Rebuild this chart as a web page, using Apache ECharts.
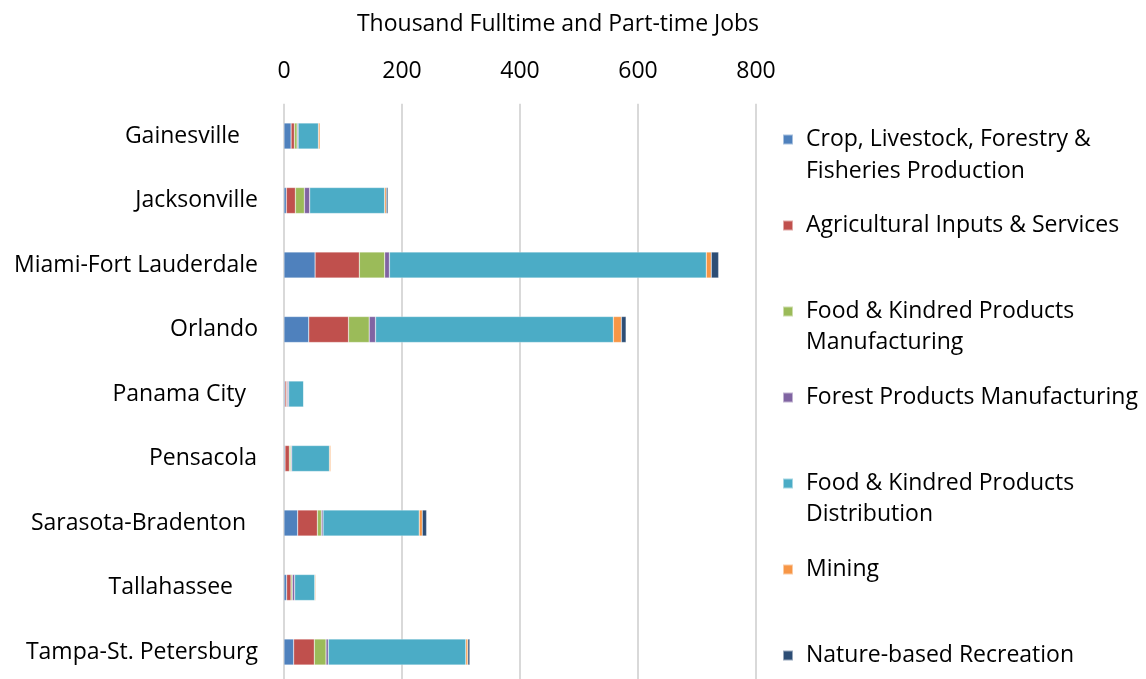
<!DOCTYPE html>
<html><head><meta charset="utf-8">
<script src="https://cdn.jsdelivr.net/npm/echarts@6/dist/echarts.min.js"></script>
<style>html,body{margin:0;padding:0;background:#fff}#c{width:1146px;height:679px}</style>
</head><body><div id="c"></div>
<script>
const categories = ["Gainesville","Jacksonville","Miami-Fort Lauderdale","Orlando","Panama City","Pensacola","Sarasota-Bradenton","Tallahassee","Tampa-St. Petersburg"];
const seriesNames = ["Crop, Livestock, Forestry & Fisheries Production","Agricultural Inputs & Services","Food & Kindred Products Manufacturing","Forest Products Manufacturing","Food & Kindred Products Distribution","Mining","Nature-based Recreation"];
const crop      = [12, 4, 52.7, 42, 1.7, 1.7, 23.2, 4.5, 16.4];
const agInputs  = [5.7, 15.3, 75, 67.4, 2.8, 7.4, 33.4, 7.4, 35];
const foodMfg   = [4.5, 15.3, 43, 35, 1.1, 2.3, 6.8, 2.3, 19.8];
const forest    = [1.7, 9, 8, 10.8, 2.3, 1.7, 2.8, 4, 4];
const foodDist  = [34.5, 127, 537, 403, 25.5, 64, 163, 34, 233];
const mining    = [2.8, 2.8, 8.5, 13.6, 0.5, 2.3, 5.1, 1.7, 3.4];
const recreation= [0.3, 2.8, 12.5, 8, 0.3, 0.3, 7.4, 0.3, 3.4];
const xTicks = [0, 200, 400, 600, 800];

const seriesData = [crop, agInputs, foodMfg, forest, foodDist, mining, recreation];
const colors = ["#4F81BD","#C0504D","#9BBB59","#8064A2","#4BACC6","#F79646","#2C4D75"];
const font = "Open Sans";
const fs = 23;
const labelPad = {"Gainesville":18,"Jacksonville":0,"Miami-Fort Lauderdale":0,"Orlando":0,"Panama City":12,"Pensacola":1,"Sarasota-Bradenton":12,"Tallahassee":25,"Tampa-St. Petersburg":0};
const legendFirst = {"Crop, Livestock, Forestry & Fisheries Production":"Crop, Livestock, Forestry &","Food & Kindred Products Manufacturing":"Food & Kindred Products","Food & Kindred Products Distribution":"Food & Kindred Products"};
const secondLines = [["Fisheries Production",170],["Manufacturing",341],["Distribution",513]];

const rich = {};
categories.forEach((c,i)=>{ rich['p'+i] = {fontFamily:font,fontSize:fs,color:'#000',padding:[0,labelPad[c],0,0]}; });

const chart = echarts.init(document.getElementById('c'));
chart.setOption({
  animation:false,
  color: colors,
  textStyle:{fontFamily:font},
  grid:{left:284, width:472, top:103.75, height:580.5, containLabel:false, outerBoundsMode:'none'},
  xAxis:{type:'value', position:'top', min:xTicks[0], max:xTicks[xTicks.length-1], interval:200,
    name:'Thousand Fulltime and Part-time Jobs', nameLocation:'middle', nameGap:68,
    nameTextStyle:{fontFamily:font,fontSize:fs,color:'#000',padding:[0,0,0,76]},
    axisLabel:{fontFamily:font,fontSize:fs,color:'#000',margin:21},
    axisLine:{show:false}, axisTick:{show:false},
    splitLine:{lineStyle:{color:'#d9d9d9',width:2}}},
  yAxis:{type:'category', inverse:true, data:categories,
    axisLine:{show:false}, axisTick:{show:false},
    axisLabel:{margin:26, formatter:(v)=>'{p'+categories.indexOf(v)+'|'+v+'}', rich:rich}},
  legend:{orient:'vertical', left:777, top:122.5, itemWidth:10, itemHeight:10, icon:'rect', itemGap:62,
    data:seriesNames,
    formatter:(n)=>legendFirst[n]||n,
    textStyle:{fontFamily:font,fontSize:fs,color:'#000',lineHeight:24,padding:[0,0,0,8]}},
  graphic: secondLines.map(s=>({type:'text', left:806, top:s[1]-10, style:{text:s[0], font:fs+'px "'+font+'"', fill:'#000'}})),
  series: seriesNames.map((n,i)=>({name:n, type:'bar', stack:'total', barWidth:26, data:seriesData[i],
    itemStyle:{borderColor:'rgba(255,255,255,0.5)',borderWidth:0.5}}))
});
</script></body></html>
